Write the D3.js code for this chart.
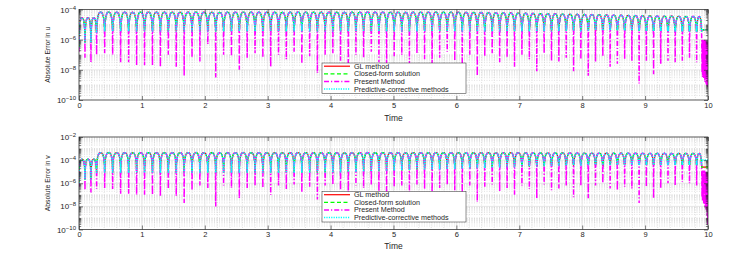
<!DOCTYPE html>
<html>
<head>
<meta charset="utf-8">
<script src="https://cdn.jsdelivr.net/npm/d3@7"></script>
<style>
body { margin: 0; background: #fff; }
text { font-family: "Liberation Sans", Arial, sans-serif; fill: #262626; }
</style>
</head>
<body>
<svg id="chart" width="748" height="259"></svg>
<script>
// ---- data (error values as log10 exponents) ----
var timeTicks = [0, 1, 2, 3, 4, 5, 6, 7, 8, 9, 10];
var uTicks = [-10, -8, -6, -4];
var vTicks = [-10, -8, -6, -4, -2];
var seriesNames = ["GL method", "Closed-form solution", "Present Method", "Predictive-corrective methods"];

// times of the minima of the oscillation (shared by u and v)
var dipTimes = [0, 0.095, 0.19,
  0.28, 0.408, 0.535, 0.662, 0.789, 0.916, 1.042, 1.168, 1.294, 1.420,
  1.546, 1.672, 1.797, 1.922, 2.048, 2.174, 2.299, 2.424, 2.549, 2.674,
  2.799, 2.923, 3.048, 3.172, 3.296, 3.420, 3.543, 3.667, 3.790, 3.913,
  4.036, 4.158, 4.281, 4.403, 4.525, 4.647, 4.768, 4.890, 5.011, 5.132,
  5.253, 5.373, 5.494, 5.614, 5.734, 5.854, 5.974, 6.093, 6.213, 6.332,
  6.451, 6.569, 6.688, 6.806, 6.924, 7.042, 7.160, 7.278, 7.395, 7.512,
  7.629, 7.746, 7.863, 7.979, 8.096, 8.212, 8.328, 8.444, 8.559, 8.675,
  8.790, 8.905, 9.020, 9.135, 9.249, 9.364, 9.478, 9.592, 9.706, 9.820,
  9.900];

// shape of one hump relative to its peak: [fraction of the period, offset in decades]
var arcProfile = [[0.03, -1.0], [0.08, -0.6], [0.15, -0.32], [0.25, -0.12], [0.35, -0.03], [0.5, 0],
  [0.65, -0.03], [0.75, -0.12], [0.85, -0.32], [0.92, -0.6], [0.97, -1.0]];

// peak of each hump
var uPeak = [-4.55, -4.55, -4.55,
  -4.18, -4.17, -4.18, -4.18, -4.19, -4.18, -4.17, -4.18, -4.18, -4.18,
  -4.18, -4.18, -4.17, -4.18, -4.18, -4.19, -4.18, -4.18, -4.17, -4.18,
  -4.18, -4.18, -4.18, -4.19, -4.18, -4.17, -4.18, -4.18, -4.18, -4.18,
  -4.18, -4.19, -4.18, -4.18, -4.17, -4.18, -4.18, -4.18, -4.18, -4.19,
  -4.18, -4.18, -4.18, -4.17, -4.18, -4.18, -4.18, -4.19, -4.2, -4.2,
  -4.21, -4.22, -4.22, -4.23, -4.24, -4.25, -4.26, -4.27, -4.28, -4.29,
  -4.3, -4.31, -4.32, -4.33, -4.34, -4.35, -4.36, -4.37, -4.38, -4.39,
  -4.4, -4.41, -4.42, -4.43, -4.44, -4.44, -4.45, -4.46, -4.46, -4.47];
var vPeak = [-3.92, -3.92, -3.92,
  -3.36, -3.35, -3.36, -3.36, -3.37, -3.36, -3.35, -3.36, -3.36, -3.36,
  -3.36, -3.36, -3.35, -3.36, -3.36, -3.37, -3.36, -3.36, -3.35, -3.36,
  -3.36, -3.36, -3.36, -3.37, -3.36, -3.35, -3.36, -3.36, -3.36, -3.36,
  -3.36, -3.37, -3.36, -3.36, -3.35, -3.36, -3.36, -3.36, -3.36, -3.37,
  -3.36, -3.36, -3.36, -3.35, -3.36, -3.36, -3.36, -3.37, -3.36, -3.36,
  -3.36, -3.37, -3.36, -3.36, -3.36, -3.37, -3.37, -3.37, -3.38, -3.38,
  -3.38, -3.38, -3.39, -3.39, -3.39, -3.39, -3.4, -3.4, -3.4, -3.4,
  -3.4, -3.41, -3.41, -3.41, -3.41, -3.42, -3.42, -3.42, -3.42, -3.43];

// depth of the Present Method spikes at each minimum
var uPresentDip = [-6.8, -7.2, -7.5,
  -7.0, -6.9, -7.0, -7.5, -7.5, -7.7, -7.7, -7.7, -7.8, -7.0,
  -7.8, -8.4, -7.2, -7.45, -6.3, -8.5, -7.0, -7.1, -8.0, -7.2,
  -6.9, -7.2, -7.8, -7.0, -7.3, -6.8, -7.6, -7.1, -8.2, -7.0,
  -6.9, -7.4, -7.9, -7.0, -7.2, -6.8, -7.5, -8.3, -7.1, -7.0,
  -7.6, -6.9, -7.3, -8.0, -7.2, -6.8, -7.4, -7.7, -7.0, -8.4,
  -7.1, -6.9, -7.5, -7.2, -7.8, -7.0, -7.3, -8.1, -6.9, -7.4,
  -7.45, -7.2, -8.1, -7.3, -8.4, -7.45, -7.1, -7.8, -7.6, -7.3,
  -7.4, -8.9, -7.4, -8.3, -7.6, -7.4, -7.5, -7.4, -7.2, -7.5];
var vPresentDip = [-6.3, -6.6, -6.8,
  -6.5, -6.4, -6.5, -6.9, -6.9, -7.0, -7.0, -7.0, -7.1, -6.5,
  -7.1, -7.7, -6.6, -6.2, -6.4, -8.0, -6.2, -6.4, -7.3, -6.4,
  -6.2, -6.4, -7.0, -6.2, -6.5, -6.1, -6.8, -6.3, -7.4, -6.2,
  -6.1, -6.6, -7.1, -6.2, -6.4, -6.1, -6.7, -7.5, -6.3, -6.2,
  -6.8, -6.1, -6.5, -7.2, -6.4, -6.1, -6.6, -6.9, -6.2, -7.6,
  -6.3, -6.1, -6.7, -6.4, -7.0, -6.2, -6.5, -7.3, -6.1, -6.6,
  -6.45, -6.2, -7.2, -6.2, -7.3, -6.2, -6.0, -6.45, -6.6, -6.3,
  -6.45, -7.7, -6.3, -7.3, -6.45, -6.0, -6.2, -5.9, -6.0, -6.2];

// depth of the other three curves at each minimum
var uPcDip = [-6.5, -6.2, -6.2,
  -5.45, -5.45, -5.45, -5.45, -5.45, -5.45, -5.45, -5.45, -5.45, -5.45,
  -5.45, -5.45, -5.45, -5.45, -5.45, -5.45, -5.45, -5.45, -5.45, -5.45,
  -5.45, -5.45, -5.45, -5.45, -5.45, -5.45, -5.45, -5.45, -5.45, -5.45,
  -5.45, -5.45, -5.45, -5.45, -5.45, -5.45, -5.45, -5.45, -5.45, -5.45,
  -5.45, -5.45, -5.45, -5.45, -5.45, -5.45, -5.45, -5.45, -5.45, -5.45,
  -5.45, -5.45, -5.45, -5.45, -5.45, -5.45, -5.45, -5.45, -5.45, -5.45,
  -5.43, -5.41, -5.39, -5.37, -5.35, -5.33, -5.31, -5.29, -5.27, -5.25,
  -5.23, -5.21, -5.19, -5.17, -5.15, -5.13, -5.12, -5.11, -5.1, -5.1];
var vPcDip = [-6.0, -5.7, -5.7,
  -5.1, -5.1, -5.1, -5.1, -5.1, -5.1, -5.1, -5.1, -5.1, -5.1,
  -5.1, -5.1, -5.1, -5.1, -5.1, -5.1, -5.1, -5.1, -5.1, -5.1,
  -5.1, -5.1, -5.1, -5.1, -5.1, -5.1, -5.1, -5.1, -5.1, -5.1,
  -5.08, -5.06, -5.04, -5.02, -5.0, -4.98, -4.96, -4.94, -4.92, -4.9,
  -4.88, -4.86, -4.84, -4.82, -4.8, -4.78, -4.76, -4.74, -4.72, -4.7,
  -4.68, -4.66, -4.64, -4.62, -4.6, -4.58, -4.56, -4.54, -4.52, -4.5,
  -4.48, -4.46, -4.44, -4.42, -4.4, -4.38, -4.36, -4.34, -4.32, -4.3,
  -4.28, -4.26, -4.24, -4.22, -4.2, -4.19, -4.18, -4.17, -4.16, -4.15];

// last stretch, t = 9.9 .. 10
var tailTimes = [9.900, 9.905, 9.909, 9.914, 9.918, 9.923, 9.927, 9.932, 9.936, 9.941, 9.945, 9.950,
  9.954, 9.959, 9.963, 9.968, 9.972, 9.977, 9.981, 9.986, 9.990, 9.995, 10.0];
var uTailPresent = [-6.0, -8.2, -6.0, -8.5, -6.1, -8.3, -6.0, -8.6, -6.1, -8.4, -6.0, -8.8,
  -6.1, -8.5, -6.0, -8.9, -6.2, -9.0, -6.1, -8.7, -6.2, -9.2, -6.3];
var vTailPresent = [-4.9, -7.2, -4.9, -7.5, -5.0, -7.3, -4.9, -7.8, -5.0, -7.4, -4.9, -8.0,
  -5.0, -7.6, -5.0, -8.3, -5.1, -7.9, -5.0, -8.8, -5.1, -9.6, -5.2];
var uTailLevels = [-5.35, -5.35, -5.35];   // GL, closed-form, predictive-corrective
var vTailLevels = [-4.6, -4.6, -4.0];

// ---- drawing ----
var svg = d3.select("#chart");
var left = 79, width = 629;
var colors = ["#ff0000", "#00ff00", "#ff00ff", "#00ffff"];
var dashes = [null, "4,2.5", "5,2,1.2,2", "1.2,1.2"];
var widths = [1.2, 1.2, 1.5, 1.6];

var panels = [
  { top: 9.5, height: 90.5, ymin: -10, ymax: -4, ticks: uTicks, label: "Absolute Error in u",
    peak: uPeak, present: uPresentDip, pcDip: uPcDip, tailPresent: uTailPresent, tailLevels: uTailLevels,
    legendTop: 63, timeY: 120.5 },
  { top: 137, height: 92.5, ymin: -10, ymax: -2, ticks: vTicks, label: "Absolute Error in v",
    peak: vPeak, present: vPresentDip, pcDip: vPcDip, tailPresent: vTailPresent, tailLevels: vTailLevels,
    legendTop: 191.5, timeY: 248.5 }
];

function seriesPoints(p, s) {
  var pts = [];
  for (var a = 0; a < p.peak.length; a++) {
    var t0 = dipTimes[a], t1 = dipTimes[a + 1];
    pts.push([t0, s === 2 ? p.present[a] : p.pcDip[a]]);
    arcProfile.forEach(function (q) {
      pts.push([t0 + q[0] * (t1 - t0), p.peak[a] + q[1]]);
    });
  }
  if (s === 2) {
    tailTimes.forEach(function (t, i) { pts.push([t, p.tailPresent[i]]); });
  } else {
    var lv = p.tailLevels[s === 3 ? 2 : s];
    pts.push([tailTimes[0], lv]);
    pts.push([tailTimes[tailTimes.length - 1], lv]);
  }
  return pts;
}

function powLabel(sel) {
  sel.each(function (d) {
    var t = d3.select(this).text("");
    t.append("tspan").text("10");
    t.append("tspan").attr("dy", "-0.5em").attr("font-size", "6px")
      .text("\u2212" + Math.round(-Math.log10(d)));
  });
}

panels.forEach(function (p, pi) {
  var g = svg.append("g").attr("transform", "translate(" + left + "," + p.top + ")");
  var x = d3.scaleLinear().domain([0, 10]).range([0, width]);
  var y = d3.scaleLog().domain([Math.pow(10, p.ymin), Math.pow(10, p.ymax)]).range([p.height, 0]);

  var yMajor = p.ticks.map(function (e) { return Math.pow(10, e); });
  var yMinor = [];
  for (var e = p.ymin; e < p.ymax; e++) {
    for (var m = 1; m < 10; m++) {
      if (m === 1 && p.ticks.indexOf(e) >= 0) continue;
      yMinor.push(m * Math.pow(10, e));
    }
  }
  var xMinor = d3.range(0, 10.001, 0.2).filter(function (v) { return Math.abs(v - Math.round(v)) > 1e-6; });

  // grid
  g.selectAll(".gxm").data(xMinor).enter().append("line")
    .attr("x1", x).attr("x2", x).attr("y1", 0).attr("y2", p.height)
    .attr("stroke", "#d0d0d0").attr("stroke-width", 0.6).attr("stroke-dasharray", "1,1.5");
  g.selectAll(".gym").data(yMinor).enter().append("line")
    .attr("y1", y).attr("y2", y).attr("x1", 0).attr("x2", width)
    .attr("stroke", "#cfcfcf").attr("stroke-width", 0.6).attr("stroke-dasharray", "1,1.5");
  g.selectAll(".gxM").data(timeTicks).enter().append("line")
    .attr("x1", x).attr("x2", x).attr("y1", 0).attr("y2", p.height)
    .attr("stroke", "#dedede").attr("stroke-width", 0.7);
  g.selectAll(".gyM").data(yMajor).enter().append("line")
    .attr("y1", y).attr("y2", y).attr("x1", 0).attr("x2", width)
    .attr("stroke", "#dedede").attr("stroke-width", 0.7);

  // curves
  var clipId = "clip" + pi;
  g.append("clipPath").attr("id", clipId).append("rect")
    .attr("width", width).attr("height", p.height);
  var line = d3.line()
    .x(function (d) { return x(d[0]); })
    .y(function (d) { return y(Math.pow(10, d[1])); });
  var plot = g.append("g").attr("clip-path", "url(#" + clipId + ")");
  seriesNames.forEach(function (name, s) {
    plot.append("path")
      .attr("d", line(seriesPoints(p, s)))
      .attr("fill", "none")
      .attr("stroke", colors[s])
      .attr("stroke-width", widths[s])
      .attr("stroke-dasharray", dashes[s]);
  });

  // axes (ticks inside, box on)
  g.append("g").attr("transform", "translate(0," + p.height + ")")
    .call(d3.axisBottom(x).tickValues(timeTicks).tickSize(-4).tickPadding(2.5).tickFormat(d3.format("d")))
    .call(function (a) { a.select(".domain").remove(); })
    .selectAll("text").attr("font-size", 7.5).attr("fill", "#262626");
  g.append("g")
    .call(d3.axisTop(x).tickValues(timeTicks).tickSize(-4).tickFormat(""))
    .call(function (a) { a.select(".domain").remove(); });
  g.append("g")
    .call(d3.axisLeft(y).tickValues(yMajor).tickSize(-4).tickPadding(3))
    .call(function (a) { a.select(".domain").remove(); })
    .selectAll("text").attr("font-size", 8).attr("fill", "#262626").call(powLabel);
  g.append("g")
    .call(d3.axisLeft(y).tickValues(yMinor).tickSize(-2.2).tickFormat(""))
    .call(function (a) { a.select(".domain").remove(); });
  g.append("g").attr("transform", "translate(" + width + ",0)")
    .call(d3.axisRight(y).tickValues(yMajor).tickSize(-4).tickFormat(""))
    .call(function (a) { a.select(".domain").remove(); });
  g.append("g").attr("transform", "translate(" + width + ",0)")
    .call(d3.axisRight(y).tickValues(yMinor).tickSize(-2.2).tickFormat(""))
    .call(function (a) { a.select(".domain").remove(); });
  g.selectAll(".tick line").attr("stroke", "#262626").attr("stroke-width", 0.6);
  g.append("rect").attr("width", width).attr("height", p.height)
    .attr("fill", "none").attr("stroke", "#262626").attr("stroke-width", 0.7);

  // labels
  svg.append("text").attr("x", left + width / 2).attr("y", p.timeY)
    .attr("text-anchor", "middle").attr("font-size", 8.5).text("Time");
  svg.append("text")
    .attr("transform", "translate(47," + (p.top + p.height / 2) + ") rotate(-90)")
    .attr("text-anchor", "middle").attr("dy", "0.35em").attr("font-size", 8)
    .attr("textLength", 56).attr("lengthAdjust", "spacingAndGlyphs")
    .text(p.label);

  // legend
  var lg = svg.append("g").attr("transform", "translate(322," + p.legendTop + ")");
  lg.append("rect").attr("width", 144).attr("height", 30.5)
    .attr("fill", "#fff").attr("stroke", "#262626").attr("stroke-width", 0.5);
  seriesNames.forEach(function (name, s) {
    var yy = 3.2 + s * 7.6;
    lg.append("line").attr("x1", 2).attr("x2", 28).attr("y1", yy).attr("y2", yy)
      .attr("stroke", colors[s]).attr("stroke-width", widths[s]).attr("stroke-dasharray", dashes[s]);
    lg.append("text").attr("x", 32).attr("y", yy).attr("dy", "0.35em")
      .attr("font-size", 7.2).text(name);
  });
});
</script>
</body>
</html>
